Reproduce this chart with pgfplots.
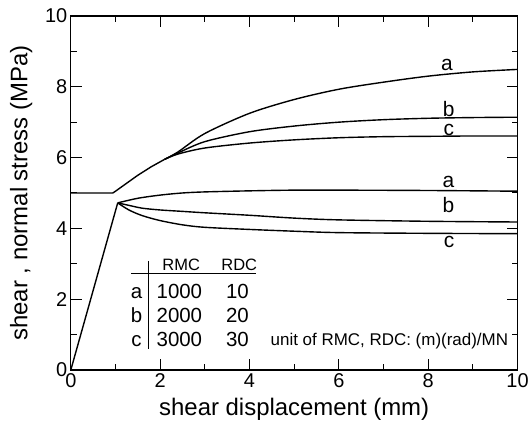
\documentclass[border=0pt]{standalone}
\usepackage{pgfplots}
\pgfplotsset{compat=1.18}
\usepackage{fontspec}
\setmainfont{Liberation Sans}
\tikzset{
  clab/.style={anchor=base, font=\fontsize{21}{24}\selectfont, inner sep=0pt},
  thead/.style={anchor=base, font=\fontsize{16.5}{20}\selectfont, inner sep=0pt},
  tcell/.style={anchor=base, font=\fontsize{20.5}{24}\selectfont, inner sep=0pt},
  tk/.style={black, line width=1pt},
}
\begin{document}
\begin{tikzpicture}
\begin{axis}[name=ax, scale only axis, width=448pt, height=355pt,
  xmin=0, xmax=10, ymin=0, ymax=10,
  xtick={0,2,...,10}, ytick={0,2,...,10},
  minor xtick={1,3,...,9}, minor ytick={1,3,...,9},
  major tick length=11pt, minor tick length=6pt,
  xtick style={black, line width=1pt}, ytick style={black, line width=1pt},
  axis line style={line width=1.2pt},
  tick label style={font=\fontsize{20}{24}\selectfont},
  /pgf/number format/assume math mode=true,
  xlabel={shear displacement (mm)},
  ylabel={shear , normal stress (MPa)},
  xlabel style={font=\fontsize{24}{28}\selectfont, yshift=-4pt},
  ylabel style={font=\fontsize{24}{28}\selectfont, yshift=6pt},
]
% normal stress
\addplot[black, line width=1.4pt] coordinates {(0,5) (0.94,5) (1.0,5.05) (1.5,5.5) (1.8,5.74) (2.1,5.95)};
\addplot[black, line width=1.4pt, smooth] coordinates {(2.1,5.95) (2.4,6.16) (3,6.68) (4,7.25) (5,7.64) (6,7.93) (7,8.13) (8,8.3) (9,8.42) (10,8.49)};
\addplot[black, line width=1.4pt, smooth] coordinates {(2.1,5.95) (2.4,6.13) (3,6.45) (4,6.73) (5,6.89) (6,7.0) (7,7.07) (8,7.11) (9,7.13) (10,7.14)};
\addplot[black, line width=1.4pt, smooth] coordinates {(2.1,5.95) (2.4,6.1) (3,6.27) (4,6.41) (5,6.5) (6,6.56) (7,6.59) (8,6.6) (9,6.61) (10,6.61)};
% shear stress
\addplot[black, line width=1.4pt] coordinates {(0,0) (1.05,4.72)};
\addplot[black, line width=1.4pt, smooth] coordinates {(1.05,4.72) (1.5,4.85) (2,4.94) (2.5,5.0) (3,5.03) (4,5.06) (5,5.08) (6,5.08) (8,5.07) (10,5.05)};
\addplot[black, line width=1.4pt, smooth] coordinates {(1.05,4.72) (1.3,4.65) (1.6,4.57) (2,4.52) (2.5,4.48) (3,4.44) (4,4.37) (5,4.29) (6,4.24) (8,4.2) (10,4.18)};
\addplot[black, line width=1.4pt, smooth] coordinates {(1.05,4.72) (1.3,4.52) (1.6,4.36) (2,4.22) (2.5,4.1) (3,4.03) (4,3.97) (5,3.92) (6,3.88) (8,3.86) (10,3.85)};
% ticks on all four sides
\pgfplotsinvokeforeach{0,2,4,6,8,10}{
  \draw[tk] (axis cs:#1,0) -- ++(0,11pt);
  \draw[tk] (axis cs:#1,10) -- ++(0,-11pt);
  \draw[tk] (axis cs:0,#1) -- ++(11pt,0);
  \draw[tk] (axis cs:10,#1) -- ++(-11pt,0);
}
\pgfplotsinvokeforeach{1,3,5,7,9}{
  \draw[tk] (axis cs:#1,0) -- ++(0,6pt);
  \draw[tk] (axis cs:#1,10) -- ++(0,-6pt);
  \draw[tk] (axis cs:0,#1) -- ++(6pt,0);
  \draw[tk] (axis cs:10,#1) -- ++(-6pt,0);
}
% curve labels
\node[clab] at (axis cs:8.42,8.47) {a};
\node[clab] at (axis cs:8.46,7.16) {b};
\node[clab] at (axis cs:8.46,6.62) {c};
\node[clab] at (axis cs:8.45,5.16) {a};
\node[clab] at (axis cs:8.45,4.44) {b};
\node[clab] at (axis cs:8.47,3.45) {c};
% table
\draw[line width=0.8pt] (axis cs:1.35,2.72) -- (axis cs:4.14,2.72);
\draw[line width=0.8pt] (axis cs:1.73,3.08) -- (axis cs:1.73,0.59);
\node[thead] at (axis cs:2.47,2.82) {RMC};
\node[thead] at (axis cs:3.77,2.82) {RDC};
\node[tcell] at (axis cs:1.47,2.02) {a};
\node[tcell] at (axis cs:1.47,1.35) {b};
\node[tcell] at (axis cs:1.47,0.66) {c};
\node[tcell] at (axis cs:2.43,2.02) {1000};
\node[tcell] at (axis cs:2.43,1.35) {2000};
\node[tcell] at (axis cs:2.43,0.66) {3000};
\node[tcell] at (axis cs:3.73,2.02) {10};
\node[tcell] at (axis cs:3.73,1.35) {20};
\node[tcell] at (axis cs:3.73,0.66) {30};
\node[anchor=base, font=\fontsize{17}{20}\selectfont, inner sep=0pt] at (axis cs:7.13,0.68) {unit of RMC, RDC: (m)(rad)/MN};
\end{axis}
\path (ax.south west) ++(-71pt,-57pt) rectangle ++(532pt,428pt);
\end{tikzpicture}
\end{document}
